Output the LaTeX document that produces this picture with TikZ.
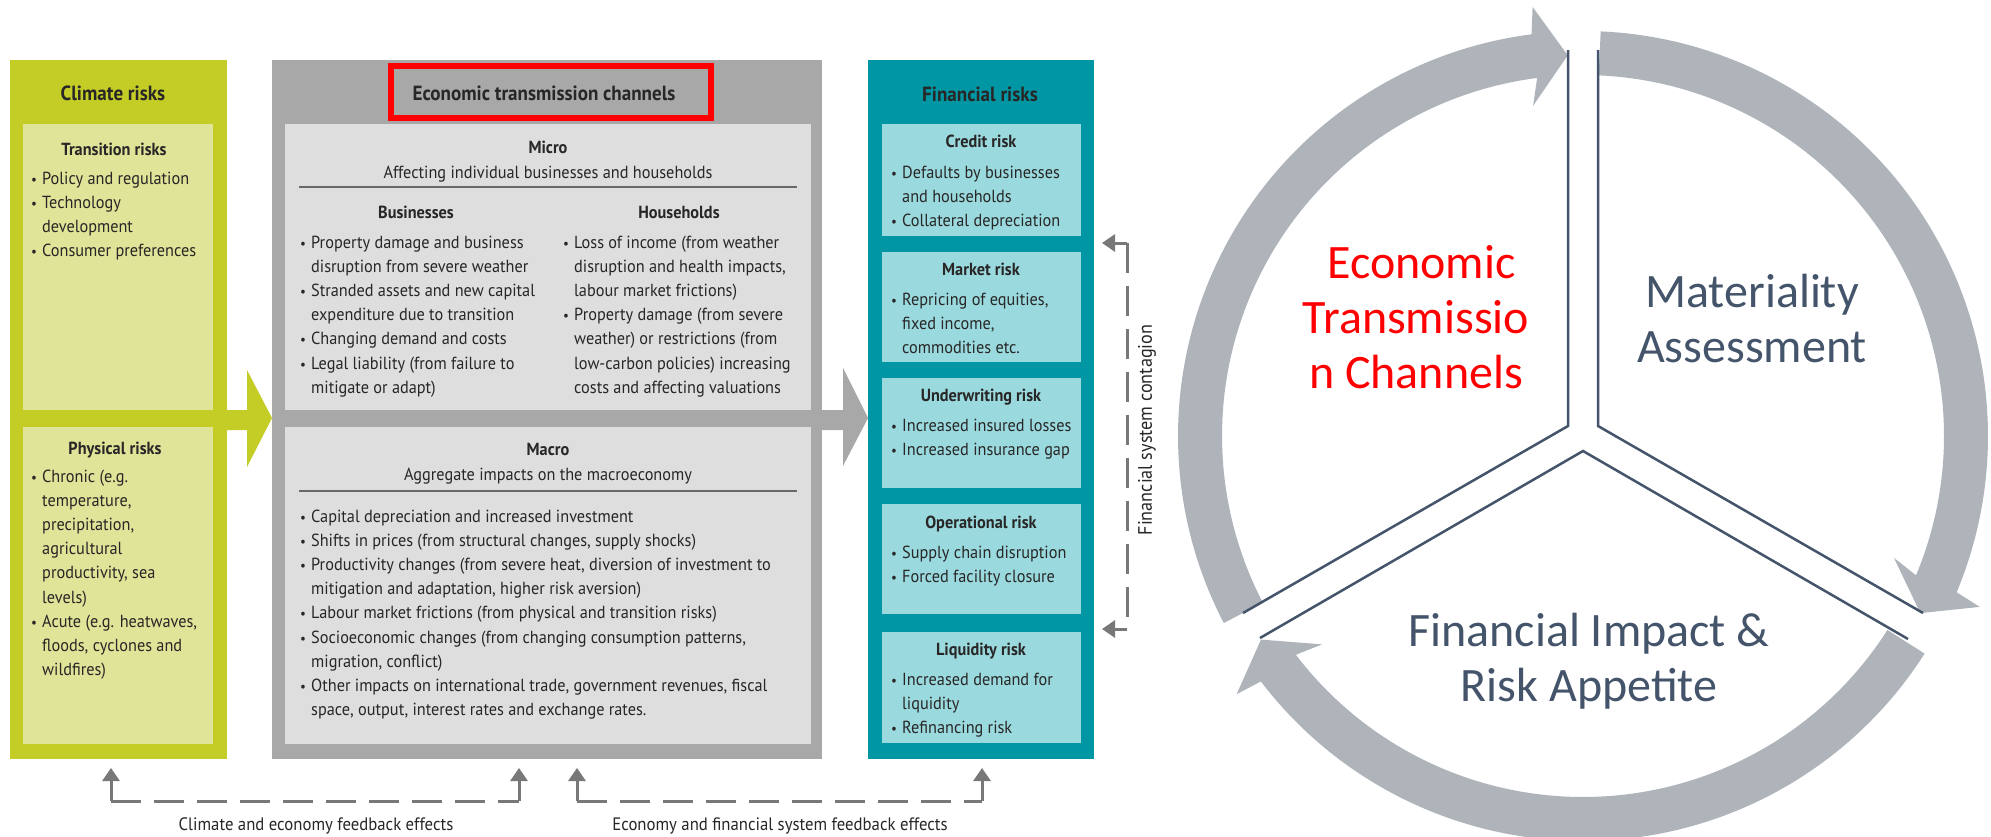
\documentclass[tikz,border=0pt]{standalone}
\usepackage{fontspec}
\usetikzlibrary{arrows.meta}
\newfontfamily\cf[FakeStretch=0.93]{PT Sans}
\newfontfamily\carl{Carlito}
\definecolor{gOut}{RGB}{196,205,38}
\definecolor{gIn}{RGB}{224,228,152}
\definecolor{grOut}{RGB}{168,168,168}
\definecolor{grIn}{RGB}{222,222,222}
\definecolor{tOut}{RGB}{0,150,163}
\definecolor{tIn}{RGB}{154,218,222}
\definecolor{txt}{RGB}{40,38,38}
\definecolor{fbc}{RGB}{120,120,120}
\definecolor{ringc}{RGB}{175,179,186}
\definecolor{slate}{RGB}{68,84,106}
\definecolor{redc}{RGB}{255,0,0}
\newlength\bw \setlength\bw{11pt}
\newcommand\bl{\makebox[\bw][l]{\scalebox{0.8}{•}}}
\newenvironment{blist}{\begin{tabular}[t]{@{}l@{}l@{}}}{\end{tabular}}
\tikzset{
  box/.style={anchor=north west, inner sep=0pt, outer sep=0pt},
  tit/.style={inner sep=0pt, anchor=base, text=txt, font=\cf\bfseries\fontsize{20.5}{24}\selectfont},
  sub/.style={inner sep=0pt, anchor=base, text=txt, font=\cf\bfseries\fontsize{17.5}{24.2}\selectfont},
  bod/.style={inner sep=0pt, anchor=base west, text=txt, font=\cf\fontsize{17.5}{24.2}\selectfont},
  cbod/.style={bod, anchor=base},
  lab/.style={inner sep=0pt, anchor=base, text=txt, font=\cf\fontsize{18}{20}\selectfont},
  fbdash/.style={draw=fbc, line width=3pt, dash pattern=on 30pt off 13pt},
  fbarr/.style={draw=fbc, line width=3pt, -{Triangle[width=17pt,length=13pt]}},
  rt/.style={inner sep=0pt, anchor=base, font=\carl\fontsize{48}{55}\selectfont},
  div/.style={draw=slate, line width=2.5pt},
  ringfill/.style={fill=ringc}
}
\begin{document}
\begin{tikzpicture}[x=1pt,y=-1pt]
\useasboundingbox[fill=white] (0,0) rectangle (1991,836);
% ---------- boxes ----------
\node[box, fill=gOut, minimum width=217pt, minimum height=699pt] (climate) at (10,60) {};
\node[box, fill=gIn, minimum width=190pt, minimum height=286pt] (trans) at (23,124) {};
\node[box, fill=gIn, minimum width=190pt, minimum height=317pt] (phys) at (23,427) {};
\node[box, fill=grOut, minimum width=550pt, minimum height=699pt] (econ) at (272,60) {};
\node[box, fill=grIn, minimum width=526pt, minimum height=286pt] (micro) at (285,124) {};
\node[box, fill=grIn, minimum width=526pt, minimum height=317pt] (macro) at (285,427) {};
\node[box, fill=tOut, minimum width=226pt, minimum height=699pt] (fin) at (868,60) {};
\node[box, fill=tIn, minimum width=199pt, minimum height=112pt] (credit) at (882,124) {};
\node[box, fill=tIn, minimum width=199pt, minimum height=110pt] (market) at (882,252) {};
\node[box, fill=tIn, minimum width=199pt, minimum height=110pt] (underw) at (882,378) {};
\node[box, fill=tIn, minimum width=199pt, minimum height=110pt] (oper) at (882,504) {};
\node[box, fill=tIn, minimum width=199pt, minimum height=111pt] (liq) at (882,632) {};
\node[box, draw=redc, line width=6pt, minimum width=320pt, minimum height=52pt] (redbox) at (391,66) {};
% ---------- block arrows ----------
\fill[gOut] (226,410) -- (247,410) -- (247,370) -- (272,418) -- (247,467) -- (247,430) -- (226,430) -- cycle;
\fill[grOut] (822,410) -- (843,410) -- (843,368) -- (868,418) -- (843,466) -- (843,430) -- (822,430) -- cycle;
% ---------- climate texts ----------
\node[tit] (tClim) at (113,100) {Climate risks};
\node[sub] (tTrans) at (114,155) {Transition risks};
\node[bod] (lTrans) at (31,184) {\begin{blist}\bl & Policy and regulation\\ \bl & Technology\\ & development\\ \bl & Consumer preferences\end{blist}};
\node[sub] (tPhys) at (115,454) {Physical risks};
\node[bod] (lPhys) at (31,482) {\begin{blist}\bl & Chronic (e.g.\\ & temperature,\\ & precipitation,\\ & agricultural\\ & productivity, sea\\ & levels)\\ \bl & Acute (e.g. heatwaves,\\ & floods, cyclones and\\ & wildfires)\end{blist}};
% ---------- economic texts ----------
\node[tit] (tEcon) at (544,100) {Economic transmission channels};
\node[sub] (tMicro) at (548,153) {Micro};
\node[cbod] (sMicro) at (548,178) {Affecting individual businesses and households};
\draw[txt!70, line width=1.3pt] (299,187) -- (797,187);
\node[sub] (tBus) at (416,218) {Businesses};
\node[sub] (tHou) at (679,218) {Households};
\node[bod] (lBus) at (300,248) {\begin{blist}\bl & Property damage and business\\ & disruption from severe weather\\ \bl & Stranded assets and new capital\\ & expenditure due to transition\\ \bl & Changing demand and costs\\ \bl & Legal liability (from failure to\\ & mitigate or adapt)\end{blist}};
\node[bod] (lHou) at (563,248) {\begin{blist}\bl & Loss of income (from weather\\ & disruption and health impacts,\\ & labour market frictions)\\ \bl & Property damage (from severe\\ & weather) or restrictions (from\\ & low-carbon policies) increasing\\ & costs and affecting valuations\end{blist}};
\node[sub] (tMacro) at (548,455) {Macro};
\node[cbod] (sMacro) at (548,480) {Aggregate impacts on the macroeconomy};
\draw[txt!70, line width=1.3pt] (299,491) -- (797,491);
\node[bod] (lMacro) at (300,522) {\begin{blist}\bl & Capital depreciation and increased investment\\ \bl & Shifts in prices (from structural changes, supply shocks)\\ \bl & Productivity changes (from severe heat, diversion of investment to\\ & mitigation and adaptation, higher risk aversion)\\ \bl & Labour market frictions (from physical and transition risks)\\ \bl & Socioeconomic changes (from changing consumption patterns,\\ & migration, conflict)\\ \bl & Other impacts on international trade, government revenues, fiscal\\ & space, output, interest rates and exchange rates.\end{blist}};
% ---------- financial texts ----------
\node[tit] (tFin) at (980,101) {Financial risks};
\node[sub] (tCred) at (981,147) {Credit risk};
\node[bod] (lCred) at (891,178) {\begin{blist}\bl & Defaults by businesses\\ & and households\\ \bl & Collateral depreciation\end{blist}};
\node[sub] (tMark) at (981,275) {Market risk};
\node[bod] (lMark) at (891,305) {\begin{blist}\bl & Repricing of equities,\\ & fixed income,\\ & commodities etc.\end{blist}};
\node[sub] (tUnd) at (981,401) {Underwriting risk};
\node[bod] (lUnd) at (891,431) {\begin{blist}\bl & Increased insured losses\\ \bl & Increased insurance gap\end{blist}};
\node[sub] (tOper) at (981,528) {Operational risk};
\node[bod] (lOper) at (891,558) {\begin{blist}\bl & Supply chain disruption\\ \bl & Forced facility closure\end{blist}};
\node[sub] (tLiq) at (981,655) {Liquidity risk};
\node[bod] (lLiq) at (891,685) {\begin{blist}\bl & Increased demand for\\ & liquidity\\ \bl & Refinancing risk\end{blist}};
% ---------- feedback arrows ----------
\coordinate (fa1) at (111,801); \coordinate (fb1) at (519,801);
\coordinate (fa2) at (577,801); \coordinate (fb2) at (982,801);
\draw[fbdash] (fa1) -- (fb1);
\draw[fbdash] (fa2) -- (fb2);
\draw[fbarr, shorten >=9pt] (fa1) -- (fa1 |- climate.south);
\draw[fbarr, shorten >=9pt] (fb1) -- (fb1 |- econ.south);
\draw[fbarr, shorten >=9pt] (fa2) -- (fa2 |- econ.south);
\draw[fbarr, shorten >=9pt] (fb2) -- (fb2 |- fin.south);
\node[lab] (labA) at (316,830) {Climate and economy feedback effects};
\node[lab] (labB) at (780,830) {Economy and financial system feedback effects};
% ---------- contagion ----------
\coordinate (c1) at (1127,243); \coordinate (c2) at (1127,629);
\draw[fbdash] (c1) -- (c2);
\draw[fbarr, shorten >=8pt] (c1) -- (c1 -| fin.east);
\draw[fbarr, shorten >=8pt] (c2) -- (c2 -| fin.east);
\node[lab, rotate=90, anchor=center, font=\cf\fontsize{19.5}{22}\selectfont] (labC) at (1147,430) {Financial system contagion};
% ---------- cycle ----------
\foreach \r in {0,-120,-240}{
  \begin{scope}[shift={(1583,436)}, rotate=\r]
    \fill[ringfill] (-207.5:405) arc[start angle=-207.5, end angle=-97.3, radius=405]
      -- (-96.7:432) -- (-92.3:381) -- (-98.6:334) -- (-97.3:361)
      arc[start angle=-97.3, end angle=-207.5, radius=361] -- cycle;
  \end{scope}
}
\draw[div] (1568,50) -- (1568,426) -- (1243,613);
\draw[div] (1598,50) -- (1598,426) -- (1923,613);
\draw[div] (1260,638) -- (1583,451) -- (1908,639);
\node[rt, text=redc] (tETC) at (1416,278) {\begin{tabular}[t]{@{}c@{}}\hspace*{11pt}Economic\\ Transmissio\\ n Channels\end{tabular}};
\node[rt, text=slate] (tMA) at (1752,307) {\begin{tabular}[t]{@{}c@{}}Materiality\\ Assessment\end{tabular}};
\node[rt, text=slate] (tFIR) at (1589,646) {\begin{tabular}[t]{@{}c@{}}Financial Impact \&\\ Risk Appetite\end{tabular}};
\end{tikzpicture}
\end{document}
